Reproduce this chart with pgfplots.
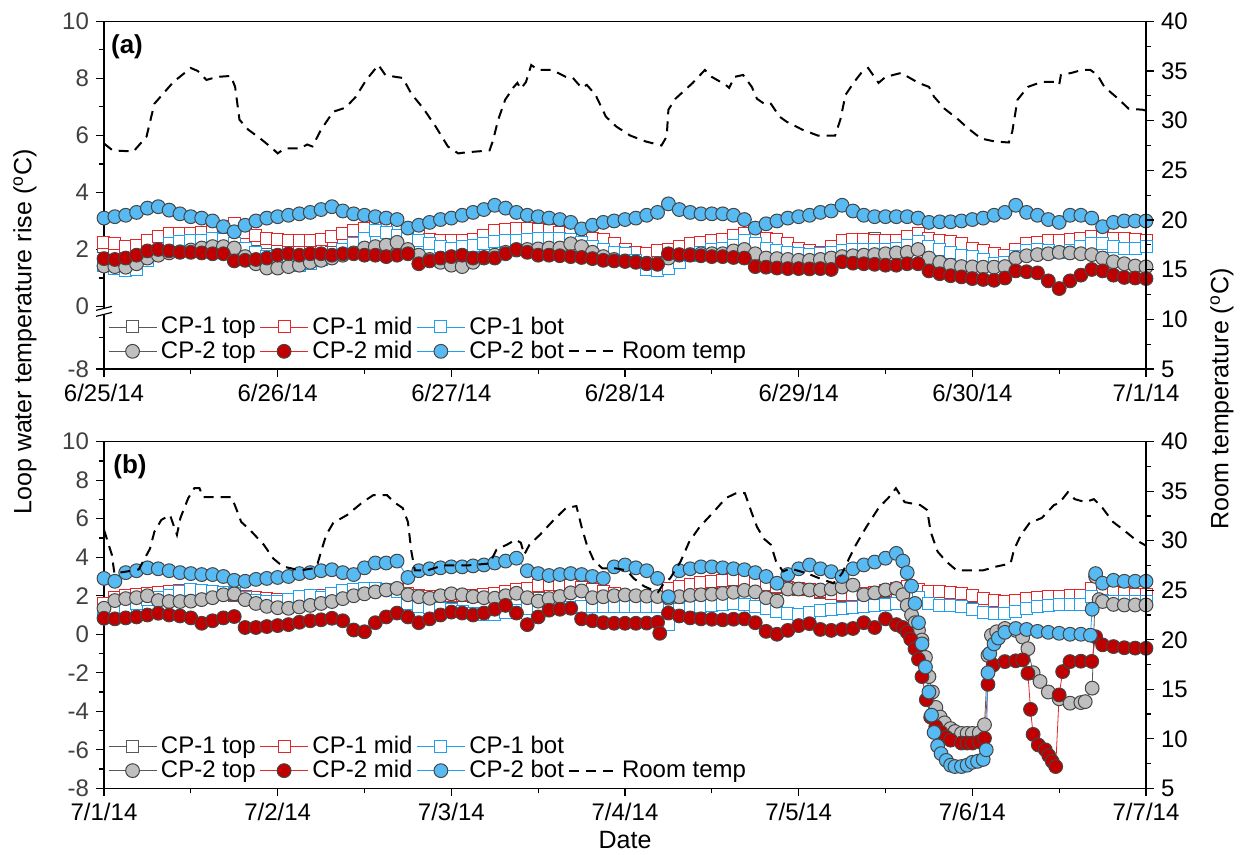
\documentclass[border=0pt]{standalone}
\usepackage{pgfplots}
\pgfplotsset{compat=1.18}
\usepackage{pgfplotstable}
\usepackage{fontspec}
\setmainfont{Liberation Sans}
\definecolor{cgray}{HTML}{595959}
\definecolor{cred}{HTML}{E3262A}
\definecolor{cblue}{HTML}{1EA0F0}
\definecolor{fgray}{HTML}{BFBFBF}
\definecolor{fred}{HTML}{C00000}
\definecolor{fblue}{HTML}{58BAF2}
\definecolor{edge}{HTML}{454545}

\pgfplotsset{
  c1t/.style={cgray, line width=0.4pt, mark=square*, mark size=3pt, mark options={fill=white, draw=cgray, line width=0.5pt}},
  c1m/.style={cred, line width=0.4pt, mark=square*, mark size=3pt, mark options={fill=white, draw=cred, line width=0.5pt}},
  c1b/.style={cblue, line width=0.4pt, mark=square*, mark size=3pt, mark options={fill=white, draw=cblue, line width=0.5pt}},
  c2t/.style={cgray, line width=0.4pt, mark=*, mark size=3.45pt, mark options={fill=fgray, draw=edge, line width=0.5pt}},
  c2m/.style={cred, line width=0.4pt, mark=*, mark size=3.45pt, mark options={fill=fred, draw=edge, line width=0.5pt}},
  c2b/.style={cblue, line width=0.4pt, mark=*, mark size=3.45pt, mark options={fill=fblue, draw=edge, line width=0.5pt}},
  rt/.style={black, line width=1pt, dash pattern=on 5pt off 3.5pt, no markers},
  base/.style={width=521pt, scale only axis, xmin=0, xmax=6,
    xtick={0,1,2,3,4,5,6}, minor xtick={0.5,1.5,2.5,3.5,4.5,5.5},
    tick pos=left, tick align=outside, major tick length=4pt, minor tick length=2.5pt,
    tick style={black, line width=0.6pt}, axis line style={line width=0.75pt},
    ticklabel style={font=\fontsize{12}{14}\selectfont},
    yticklabel style={color=black!75},
    /pgf/number format/assume math mode=true},
  rbase/.style={width=521pt, scale only axis, xmin=0, xmax=6, hide x axis,
    axis y line*=right, y axis line style={-, line width=0.75pt},
    ymin=5, ymax=40, ytick={5,10,15,20,25,30,35,40}, yticklabels={5,10,15,20,25,30,35,40},
    minor ytick={7.5,12.5,17.5,22.5,27.5,32.5,37.5},
    tick align=outside, major tick length=4pt, minor tick length=2.5pt,
    tick style={black, line width=0.6pt},
    ticklabel style={font=\fontsize{12}{14}\selectfont},
    /pgf/number format/assume math mode=true,
    legend columns=4,
    legend cell align=left,
    legend image code/.code={\draw[mark repeat=2,mark phase=2] plot coordinates {(0pt,0pt) (12pt,0pt) (24pt,0pt)};},
    legend style={draw=none, fill=none, inner sep=0pt, outer sep=0pt,
      font=\fontsize{12}{14}\selectfont, at={(0.004,0.01)}, anchor=south west,
      row sep=-2pt, /tikz/every even column/.append style={column sep=0pt}}}
}

\pgfplotstableread{
t c1t c1m c1b c2t c2m c2b
0 2.10 2.25 1.45 1.42 1.68 3.10
0.0625 2.05 2.2 1.35 1.4 1.65 3.15
0.125 1.95 2.1 1.25 1.38 1.7 3.2
0.1875 2.0 2.15 1.3 1.5 1.8 3.3
0.25 2.15 2.3 1.6 1.7 1.95 3.45
0.3125 2.3 2.45 1.95 1.8 2.0 3.5
0.375 2.4 2.55 2.2 1.88 1.95 3.38
0.4375 2.4 2.55 2.28 1.92 1.9 3.25
0.5 2.4 2.55 2.3 1.98 1.9 3.15
0.5625 2.45 2.6 2.32 2.05 1.88 3.1
0.625 2.55 2.7 2.38 2.1 1.85 3.0
0.6875 2.65 2.8 2.35 2.1 1.85 2.8
0.75 2.75 2.9 2.2 2.05 1.6 2.62
0.8125 2.45 2.6 2.05 1.75 1.62 2.85
0.875 2.35 2.5 1.9 1.5 1.65 3.0
0.9375 2.25 2.4 1.75 1.35 1.7 3.1
1.0 2.2 2.35 1.6 1.35 1.8 3.15
1.0625 2.17 2.32 1.5 1.4 1.85 3.2
1.125 2.15 2.3 1.45 1.45 1.8 3.25
1.1875 2.15 2.3 1.5 1.55 1.85 3.3
1.25 2.2 2.35 1.65 1.62 1.85 3.4
1.3125 2.3 2.45 1.8 1.7 1.8 3.5
1.375 2.4 2.55 2.0 1.8 1.85 3.35
1.4375 2.5 2.65 2.2 1.88 1.85 3.25
1.5 2.6 2.75 2.4 2.05 1.8 3.2
1.5625 2.7 2.85 2.65 2.1 1.8 3.15
1.625 2.85 3.0 2.6 2.15 1.75 3.1
1.6875 2.65 2.8 2.5 2.25 1.8 3.05
1.75 2.4 2.55 2.4 2.0 1.85 2.75
1.8125 2.3 2.45 2.3 1.8 1.5 2.85
1.875 2.2 2.35 2.2 1.65 1.6 2.95
1.9375 2.15 2.3 2.1 1.55 1.7 3.05
2.0 2.15 2.3 2.05 1.45 1.75 3.1
2.0625 2.15 2.3 2.1 1.4 1.8 3.2
2.125 2.2 2.35 2.15 1.55 1.7 3.3
2.1875 2.35 2.5 2.2 1.7 1.72 3.4
2.25 2.5 2.65 2.27 1.8 1.7 3.55
2.3125 2.55 2.7 2.3 1.9 1.85 3.45
2.375 2.6 2.74 2.33 1.98 2.0 3.3
2.4375 2.57 2.72 2.35 2.0 1.9 3.2
2.5 2.55 2.7 2.38 2.02 1.8 3.15
2.5625 2.5 2.65 2.4 2.05 1.8 3.1
2.625 2.45 2.6 2.4 2.05 1.78 3.05
2.6875 2.4 2.55 2.35 2.2 1.75 2.95
2.75 2.35 2.5 2.25 2.1 1.72 2.72
2.8125 2.25 2.4 2.1 1.9 1.68 2.85
2.875 2.2 2.35 2.0 1.75 1.62 2.95
2.9375 2.05 2.2 1.9 1.65 1.6 3.0
3.0 1.85 2.0 1.85 1.6 1.58 3.05
3.0625 1.75 1.9 1.6 1.57 1.55 3.1
3.125 1.7 1.85 1.3 1.52 1.5 3.2
3.1875 1.8 1.95 1.27 1.5 1.48 3.3
3.25 1.85 2.0 1.33 1.7 1.85 3.6
3.3125 1.95 2.1 1.55 1.8 1.82 3.4
3.375 2.05 2.2 1.8 1.82 1.8 3.3
3.4375 2.1 2.25 1.9 1.85 1.78 3.25
3.5 2.15 2.3 2.0 1.85 1.75 3.25
3.5625 2.2 2.35 2.05 1.85 1.75 3.25
3.625 2.35 2.5 2.15 1.95 1.72 3.2
3.6875 2.4 2.55 2.3 2.0 1.7 3.05
3.75 2.3 2.45 2.2 1.85 1.4 2.75
3.8125 2.25 2.4 2.05 1.7 1.38 2.9
3.875 2.2 2.35 1.95 1.68 1.35 3.0
3.9375 2.05 2.2 1.9 1.65 1.33 3.1
4.0 1.9 2.05 1.85 1.62 1.33 3.15
4.0625 1.8 1.95 1.82 1.62 1.32 3.2
4.125 1.75 1.9 1.85 1.65 1.33 3.3
4.1875 1.95 2.1 1.9 1.7 1.3 3.35
4.25 2.15 2.3 1.95 1.75 1.57 3.55
4.3125 2.2 2.35 2.0 1.78 1.52 3.35
4.375 2.2 2.35 2.0 1.8 1.5 3.2
4.4375 2.4 2.3 2.0 1.82 1.48 3.15
4.5 2.15 2.3 2.0 1.85 1.45 3.15
4.5625 2.15 2.3 2.05 1.88 1.45 3.15
4.625 2.3 2.45 2.15 1.9 1.5 3.15
4.6875 2.4 2.55 2.27 2.0 1.5 3.1
4.75 2.25 2.4 2.1 1.7 1.25 2.95
4.8125 2.15 2.3 2.0 1.55 1.15 2.97
4.875 2.12 2.27 1.9 1.45 1.08 2.97
4.9375 2.05 2.2 1.8 1.4 1.04 3.0
5.0 1.9 2.05 1.75 1.39 0.98 3.05
5.0625 1.8 1.95 1.65 1.38 0.95 3.1
5.125 1.7 1.85 1.5 1.38 0.92 3.2
5.1875 1.65 1.8 1.55 1.4 1.0 3.3
5.25 1.85 2.0 1.75 1.7 1.25 3.55
5.3125 2.05 2.2 1.95 1.78 1.22 3.3
5.375 2.1 2.25 2.0 1.82 1.18 3.2
5.4375 2.15 2.3 1.95 1.85 0.9 3.05
5.5 2.15 2.3 1.9 1.9 0.63 2.95
5.5625 2.2 2.35 1.95 1.88 0.9 3.2
5.625 2.25 2.4 2.1 1.85 1.1 3.2
5.6875 2.3 2.45 2.2 1.82 1.3 3.1
5.75 2.3 2.45 2.2 1.7 1.25 2.8
5.8125 2.25 2.4 2.1 1.57 1.1 2.95
5.875 2.25 2.4 2.05 1.5 1.02 3.0
5.9375 2.2 2.35 2.05 1.42 1.0 3.0
6.0 2.15 2.3 2.1 1.39 0.98 3.0
}\tabA

\pgfplotstableread{
c1m c1b
1.6 1.0
1.9 1.3
2.0 1.35
2.05 1.6
2.1 1.8
2.15 1.9
2.2 2.0
2.25 2.2
2.25 2.3
2.2 2.25
2.15 2.2
2.1 2.15
2.05 2.1
1.95 1.9
1.9 1.75
1.85 1.7
1.8 1.7
1.8 1.8
1.85 1.95
1.9 2.0
2.0 1.9
2.1 2.1
2.15 2.25
2.2 2.35
2.25 2.4
2.3 2.4
2.35 2.35
2.3 2.2
2.1 1.6
2.0 1.45
1.95 1.4
1.95 1.35
2.0 1.3
2.0 1.2
2.0 1.1
2.05 1.0
2.1 1.05
2.2 1.15
2.3 1.25
2.4 1.35
2.55 1.35
2.6 1.35
2.6 1.4
2.55 1.4
2.45 1.42
2.3 1.44
2.2 1.45
2.1 1.45
1.9 1.45
1.7 1.45
1.5 1.45
1.45 1.44
2.4 0.5
2.5 1.3
2.6 1.4
2.7 1.45
2.75 1.5
2.8 1.55
2.85 1.6
2.8 1.55
2.7 1.45
2.6 1.35
2.5 1.2
2.45 1.1
2.4 1.05
2.3 1.15
2.2 1.25
2.1 1.3
2.05 1.35
2.05 1.4
2.1 1.45
2.15 1.5
2.25 1.55
2.4 1.6
2.5 1.96
2.35 1.9
2.2 1.6
2.2 1.5
2.15 1.5
2.1 1.45
2.0 1.3
1.85 1.15
1.75 1.1
1.7 1.1
1.75 1.2
1.85 1.35
1.9 1.45
1.95 1.5
1.95 1.52
2.0 1.55
2.0 1.55
2.4 1.96
2.2 1.75
2.15 1.7
2.1 1.7
2.05 1.7
2.05 1.7
}\tabB

\pgfplotstableread{
c1t
1.55
1.95
2.05
2.15
2.2
2.1
2.0
1.85
1.75
1.8
1.95
2.1
2.2
2.3
2.05
1.9
1.95
1.95
2.05
2.25
2.5
2.55
2.4
2.15
1.85
1.45
2.35
2.55
2.7
2.8
2.65
2.45
2.35
2.15
2.0
2.05
2.2
2.45
2.15
2.1
1.95
1.7
1.7
1.85
1.9
1.95
2.15
2.05
2.0
}\tabBt

\begin{document}
\begin{tikzpicture}
\useasboundingbox (0,0) rectangle (622pt,-427.5pt);

% ---------------- panel (a) ----------------
\begin{axis}[base, at={(52pt,-184.5pt)}, anchor=south west, height=173.85pt,
  ymin=-2.19, ymax=10, ytick={-2.19,0,2,4,6,8,10}, yticklabels={-8,0,2,4,6,8,10},
  minor ytick={-1.095,1,3,5,7,9},
  xticklabels={6/25/14,6/26/14,6/27/14,6/28/14,6/29/14,6/30/14,7/1/14}]
\addplot[c1t] table[x=t,y=c1t]{\tabA};
\addplot[c1m] table[x=t,y=c1m]{\tabA};
\addplot[c1b] table[x=t,y=c1b]{\tabA};
\addplot[c2t] table[x=t,y=c2t]{\tabA};
\addplot[c2m] table[x=t,y=c2m]{\tabA};
\addplot[c2b] table[x=t,y=c2b]{\tabA};
\pgfplotsinvokeforeach{0.5,1,1.5,2,2.5,3,3.5,4,4.5,5,5.5}{\draw[line width=0.6pt] (axis cs:#1,10) -- ++(0,-2.5pt);}
\coordinate (brk) at (axis cs:0,-0.17);
\end{axis}
\begin{axis}[rbase, at={(52pt,-184.5pt)}, anchor=south west, height=173.85pt]
\addlegendimage{c1t}\addlegendentry{CP-1 top}
\addlegendimage{c1m}\addlegendentry{CP-1 mid}
\addlegendimage{c1b}\addlegendentry{CP-1 bot}
\addlegendimage{empty legend}\addlegendentry{}
\addlegendimage{c2t}\addlegendentry{CP-2 top}
\addlegendimage{c2m}\addlegendentry{CP-2 mid}
\addlegendimage{c2b}\addlegendentry{CP-2 bot}
\addplot[rt] coordinates {(0,27.7)(0.05,27.0)(0.17,26.9)(0.245,28.4)(0.29,31.7)(0.4,33.9)(0.5,35.3)(0.54,35.0)(0.59,34.1)(0.65,34.4)(0.73,34.5)(0.755,33.4)(0.78,30.1)(0.83,29.1)(0.9,28.2)(0.97,27.2)(1.0,26.7)(1.04,27.2)(1.13,27.2)(1.17,27.6)(1.2,27.4)(1.25,29.1)(1.32,30.9)(1.39,31.3)(1.45,32.4)(1.51,34.1)(1.58,35.6)(1.62,34.6)(1.68,34.4)(1.72,34.3)(1.77,32.7)(1.84,31.2)(1.91,29.4)(1.98,27.4)(2.04,26.7)(2.08,26.8)(2.22,27.0)(2.24,28.0)(2.27,30.1)(2.31,32.1)(2.36,33.4)(2.38,33.8)(2.40,33.2)(2.43,33.9)(2.46,35.6)(2.5,35.1)(2.58,35.1)(2.66,34.4)(2.7,34.3)(2.75,33.3)(2.78,33.6)(2.83,32.6)(2.89,30.4)(2.95,29.4)(3.03,28.5)(3.12,27.9)(3.21,27.5)(3.24,28.4)(3.25,31.1)(3.29,32.2)(3.39,33.8)(3.46,35.1)(3.5,34.4)(3.58,33.6)(3.6,33.3)(3.63,34.4)(3.68,34.6)(3.73,33.4)(3.76,32.2)(3.81,31.6)(3.84,31.7)(3.89,30.4)(3.93,29.9)(4.02,29.1)(4.11,28.5)(4.21,28.5)(4.24,30.1)(4.27,32.6)(4.32,33.9)(4.36,34.8)(4.4,35.3)(4.44,34.3)(4.46,33.8)(4.5,34.4)(4.59,34.8)(4.69,33.8)(4.75,33.4)(4.78,32.4)(4.84,31.2)(4.92,30.1)(4.97,29.3)(5.05,28.2)(5.13,27.9)(5.21,27.8)(5.23,28.9)(5.26,32.1)(5.32,33.4)(5.4,33.9)(5.47,33.9)(5.5,33.6)(5.51,34.6)(5.57,34.8)(5.63,35.1)(5.68,35.1)(5.72,34.6)(5.76,33.4)(5.84,32.2)(5.9,31.2)(5.98,31.1)(6.0,31.0)};
\addlegendentry{Room temp}
\end{axis}
\fill[white] ([xshift=-1.5pt,yshift=-1.3pt]brk) rectangle ([xshift=1.5pt,yshift=1.3pt]brk);
\draw[line width=0.6pt] ([xshift=-4pt,yshift=-2.5pt]brk) -- ([xshift=4pt,yshift=-0.5pt]brk);
\draw[line width=0.6pt] ([xshift=-4pt,yshift=0.5pt]brk) -- ([xshift=4pt,yshift=2.5pt]brk);

% ---------------- panel (b) ----------------
\begin{axis}[base, at={(52pt,-394.15pt)}, anchor=south west, height=173.3pt,
  ymin=-8, ymax=10, ytick={-8,-6,-4,-2,0,2,4,6,8,10}, yticklabels={-8,-6,-4,-2,0,2,4,6,8,10},
  minor ytick={-7,-5,-3,-1,1,3,5,7,9},
  xticklabels={7/1/14,7/2/14,7/3/14,7/4/14,7/5/14,7/6/14,7/7/14}]
\addplot[c1t] table[x expr=\coordindex/8,y=c1t]{\tabBt};
\addplot[c1m] table[x expr=\coordindex/16,y=c1m]{\tabB};
\addplot[c1b] table[x expr=\coordindex/16,y=c1b]{\tabB};
\addplot[c2t] coordinates {(0,1.35)(0.0625,1.75)(0.125,1.85)(0.1875,1.9)(0.25,2.0)(0.3125,1.75)(0.375,1.7)(0.4375,1.7)(0.5,1.72)(0.5625,1.8)(0.625,1.9)(0.6875,2.05)(0.75,2.1)(0.8125,1.8)(0.875,1.6)(0.9375,1.45)
(1,1.38)(1.0625,1.35)(1.125,1.42)(1.1875,1.5)(1.25,1.6)(1.3125,1.7)(1.375,1.85)(1.4375,2.0)(1.5,2.1)(1.5625,2.2)(1.625,2.3)(1.6875,2.38)(1.75,2.05)(1.8125,1.95)(1.875,1.87)(1.9375,2.0)
(2,2.1)(2.0625,2.05)(2.125,1.95)(2.1875,1.9)(2.25,1.87)(2.3125,2.0)(2.375,2.13)(2.4375,1.9)(2.5,1.72)(2.5625,1.85)(2.625,1.96)(2.6875,2.15)(2.75,2.25)(2.8125,1.9)(2.875,1.95)(2.9375,2.0)
(3,2.04)(3.0625,2.0)(3.125,1.98)(3.1875,1.96)(3.25,1.87)(3.3125,1.95)(3.375,2.02)(3.4375,2.05)(3.5,2.08)(3.5625,2.12)(3.625,2.18)(3.6875,2.28)(3.75,2.2)(3.8125,1.9)(3.875,1.72)(3.9375,2.35)
(4,2.35)(4.0625,2.3)(4.125,2.3)(4.1875,2.35)(4.25,2.45)(4.3125,2.55)(4.375,2.05)(4.4375,2.15)(4.5,2.3)(4.5625,2.38)(4.6,2.05)(4.625,1.5)(4.65,1.0)(4.67,0.6)(4.69,0.2)(4.71,-0.3)(4.73,-1.2)(4.75,-2.2)(4.77,-3.0)(4.79,-3.8)(4.815,-4.3)(4.84,-4.6)(4.875,-4.9)(4.9,-5.05)(4.9375,-5.15)(4.97,-5.15)(5,-5.15)(5.04,-5.12)(5.07,-4.7)(5.09,-1.1)(5.11,-0.05)(5.14,0.13)(5.1875,0.3)(5.25,0.2)(5.29,-0.15)(5.32,-0.75)(5.35,-2.0)(5.39,-2.45)(5.4375,-3.0)(5.5,-3.35)(5.5625,-3.58)(5.625,-3.55)(5.65,-3.5)(5.69,-2.8)(5.71,3.0)(5.73,1.8)(5.75,1.7)(5.8125,1.55)(5.875,1.52)(5.9375,1.52)(6,1.52)};
\addplot[c2m] coordinates {(0,0.83)(0.0625,0.8)(0.125,0.85)(0.1875,0.9)(0.25,1.0)(0.3125,1.09)(0.375,1.0)(0.4375,0.95)(0.5,0.85)(0.5625,0.57)(0.625,0.7)(0.6875,0.85)(0.75,0.92)(0.8125,0.35)(0.875,0.35)(0.9375,0.4)
(1,0.45)(1.0625,0.5)(1.125,0.62)(1.1875,0.7)(1.25,0.75)(1.3125,0.83)(1.375,0.7)(1.4375,0.22)(1.5,0.13)(1.5625,0.6)(1.625,0.9)(1.6875,1.1)(1.75,0.9)(1.8125,0.6)(1.875,0.8)(1.9375,1.0)
(2,1.15)(2.0625,1.1)(2.125,1.0)(2.1875,1.1)(2.25,1.3)(2.3125,1.5)(2.375,1.1)(2.4375,0.5)(2.5,0.9)(2.5625,1.25)(2.625,1.3)(2.6875,1.35)(2.75,0.8)(2.8125,0.7)(2.875,0.6)(2.9375,0.57)
(3,0.57)(3.0625,0.57)(3.125,0.58)(3.1875,0.62)(3.2,0.05)(3.25,1.1)(3.3125,0.95)(3.375,0.85)(3.4375,0.8)(3.5,0.78)(3.5625,0.75)(3.625,0.78)(3.6875,0.8)(3.75,0.6)(3.8125,0.15)(3.875,0.0)(3.9375,0.2)
(4,0.45)(4.0625,0.55)(4.125,0.25)(4.1875,0.2)(4.25,0.25)(4.3125,0.3)(4.375,0.6)(4.4375,0.35)(4.5,0.8)(4.5625,0.5)(4.6,0.35)(4.625,0.1)(4.645,-0.25)(4.67,-0.75)(4.69,-1.3)(4.71,-2.2)(4.735,-3.4)(4.76,-4.3)(4.79,-4.8)(4.82,-5.1)(4.85,-5.35)(4.875,-5.5)(4.9375,-5.65)(4.97,-5.65)(5,-5.65)(5.04,-5.58)(5.07,-5.4)(5.09,-2.6)(5.12,-1.6)(5.1875,-1.42)(5.25,-1.38)(5.29,-1.33)(5.32,-2.03)(5.335,-3.9)(5.35,-5.2)(5.38,-5.75)(5.42,-6.0)(5.44,-6.3)(5.46,-6.6)(5.48,-6.87)(5.5,-3.15)(5.52,-1.94)(5.5625,-1.42)(5.625,-1.4)(5.6875,-1.41)(5.71,-0.13)(5.75,-0.55)(5.8125,-0.64)(5.875,-0.7)(5.9375,-0.72)(6,-0.73)};
\addplot[c2b] coordinates {(0,2.9)(0.0625,2.75)(0.125,3.2)(0.1875,3.3)(0.25,3.45)(0.3125,3.4)(0.375,3.3)(0.4375,3.2)(0.5,3.15)(0.5625,3.1)(0.625,3.1)(0.6875,3.0)(0.75,2.8)(0.8125,2.75)(0.875,2.85)(0.9375,2.9)
(1,2.95)(1.0625,3.0)(1.125,3.15)(1.1875,3.2)(1.25,3.3)(1.3125,3.35)(1.375,3.2)(1.4375,3.1)(1.5,3.45)(1.5625,3.7)(1.625,3.7)(1.6875,3.8)(1.75,2.95)(1.8125,3.3)(1.875,3.4)(1.9375,3.45)
(2,3.5)(2.0625,3.5)(2.125,3.55)(2.1875,3.6)(2.25,3.7)(2.3125,3.8)(2.375,3.95)(2.4375,3.3)(2.5,3.15)(2.5625,3.05)(2.625,3.1)(2.6875,3.15)(2.75,3.1)(2.8125,3.0)(2.875,2.9)(2.9375,3.5)
(3,3.6)(3.0625,3.45)(3.125,3.3)(3.1875,2.9)(3.25,1.95)(3.3125,3.3)(3.375,3.4)(3.4375,3.5)(3.5,3.5)(3.5625,3.45)(3.625,3.4)(3.6875,3.35)(3.75,3.2)(3.8125,3.0)(3.875,2.65)(3.9375,3.1)
(4,3.4)(4.0625,3.6)(4.125,3.4)(4.1875,3.25)(4.25,3.0)(4.3125,3.4)(4.375,3.6)(4.4375,3.75)(4.5,3.95)(4.5625,4.2)(4.6,3.8)(4.625,3.2)(4.65,2.5)(4.67,1.6)(4.69,0.6)(4.71,-0.5)(4.73,-1.7)(4.75,-3.0)(4.765,-4.2)(4.78,-5.1)(4.8,-5.8)(4.82,-6.2)(4.85,-6.55)(4.875,-6.8)(4.9,-6.87)(4.9375,-6.87)(4.97,-6.8)(5,-6.65)(5.03,-6.6)(5.0625,-6.5)(5.08,-6.0)(5.09,-2.0)(5.1,-1.0)(5.125,-0.5)(5.15,-0.2)(5.1875,0.1)(5.25,0.3)(5.3125,0.25)(5.375,0.15)(5.4375,0.1)(5.5,0.05)(5.5625,0.0)(5.625,0.0)(5.68,-0.05)(5.69,1.3)(5.71,3.15)(5.75,2.65)(5.8125,2.8)(5.875,2.75)(5.9375,2.75)(6,2.75)};
\pgfplotsinvokeforeach{0.5,1,1.5,2,2.5,3,3.5,4,4.5,5,5.5}{\draw[line width=0.6pt] (axis cs:#1,10) -- ++(0,-2.5pt);}
\end{axis}
\begin{axis}[rbase, at={(52pt,-394.15pt)}, anchor=south west, height=173.3pt]
\addlegendimage{c1t}\addlegendentry{CP-1 top}
\addlegendimage{c1m}\addlegendentry{CP-1 mid}
\addlegendimage{c1b}\addlegendentry{CP-1 bot}
\addlegendimage{empty legend}\addlegendentry{}
\addlegendimage{c2t}\addlegendentry{CP-2 top}
\addlegendimage{c2m}\addlegendentry{CP-2 mid}
\addlegendimage{c2b}\addlegendentry{CP-2 bot}
\addplot[rt] coordinates {(0,31.1)(0.045,28.6)(0.06,26.7)(0.17,27.0)(0.2,27.1)(0.265,29.2)(0.29,30.9)(0.33,32.1)(0.38,32.6)(0.42,30.6)(0.44,32.3)(0.485,34.3)(0.52,35.3)(0.55,35.3)(0.57,34.4)(0.67,34.4)(0.735,34.4)(0.76,33.3)(0.79,31.9)(0.84,31.1)(0.92,29.6)(0.975,28.2)(1.03,27.4)(1.13,27.0)(1.2,27.2)(1.23,27.7)(1.25,28.9)(1.28,30.6)(1.32,31.8)(1.4,32.6)(1.49,33.9)(1.55,34.6)(1.63,34.6)(1.67,33.9)(1.72,33.3)(1.75,31.9)(1.77,28.9)(1.79,27.0)(1.86,27.0)(1.95,27.5)(2.09,27.5)(2.22,27.7)(2.26,29.1)(2.32,29.6)(2.37,30.1)(2.4,29.8)(2.42,28.6)(2.45,29.6)(2.51,30.6)(2.59,32.1)(2.66,33.3)(2.72,33.5)(2.75,31.4)(2.78,29.6)(2.82,28.0)(2.87,27.2)(2.95,27.2)(3.01,27.0)(3.05,26.2)(3.11,25.4)(3.19,24.8)(3.22,25.6)(3.26,26.2)(3.32,27.9)(3.37,29.9)(3.43,31.4)(3.51,32.9)(3.58,34.3)(3.64,34.8)(3.69,34.8)(3.73,32.8)(3.76,31.4)(3.8,30.2)(3.84,29.6)(3.87,27.9)(3.91,26.9)(3.95,27.2)(4.05,26.7)(4.12,26.2)(4.2,25.7)(4.25,26.7)(4.29,28.2)(4.33,29.6)(4.39,31.4)(4.46,33.3)(4.52,34.4)(4.56,35.3)(4.61,33.9)(4.7,33.6)(4.74,33.1)(4.76,30.9)(4.8,28.9)(4.85,27.9)(4.91,27.0)(4.99,27.0)(5.06,27.0)(5.14,27.4)(5.22,27.7)(5.24,29.1)(5.28,30.6)(5.33,31.8)(5.4,32.3)(5.47,33.6)(5.5,33.8)(5.55,34.9)(5.59,34.2)(5.65,33.9)(5.7,34.2)(5.75,33.3)(5.81,31.9)(5.87,31.1)(5.94,30.1)(6.0,29.5)};
\addlegendentry{Room temp}
\end{axis}

% labels
\node[font=\fontsize{13}{15}\selectfont\bfseries] at (63.5pt,-23.5pt) {(a)};
\node[font=\fontsize{13}{15}\selectfont\bfseries] at (65pt,-233.5pt) {(b)};
\node[rotate=90, font=\fontsize{12.5}{15}\selectfont] at (12.5pt,-166pt) {Loop water temperature rise (\textsuperscript{o}C)};
\node[rotate=90, font=\fontsize{12.5}{15}\selectfont] at (611pt,-199.5pt) {Room temperature (\textsuperscript{o}C)};
\node[font=\fontsize{12.5}{15}\selectfont] at (312.5pt,-420pt) {Date};
\end{tikzpicture}
\end{document}
